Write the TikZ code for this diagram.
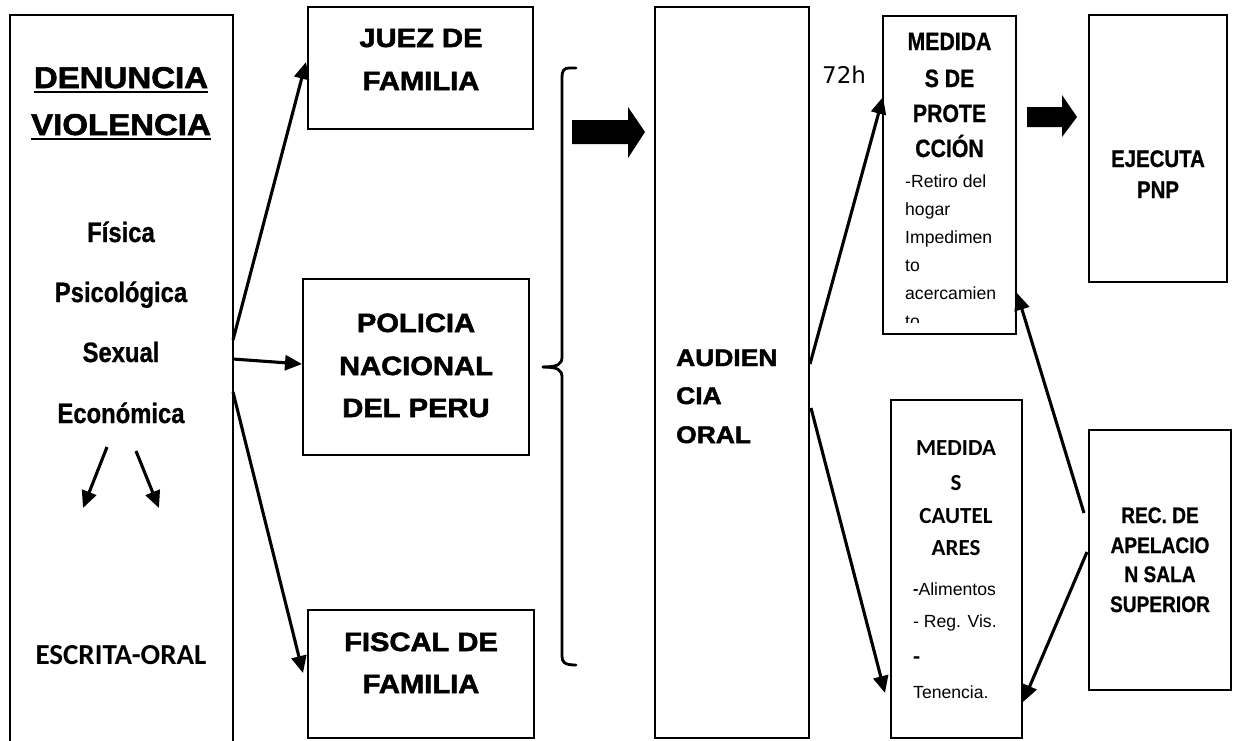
\documentclass[tikz,border=0pt]{standalone}
\usepackage{fontspec}
\setmainfont{Liberation Sans}
\newfontfamily\blackf[BoldFeatures={FakeBold=2,FakeStretch=1.1}]{Liberation Sans}
\newfontfamily\narrowf[FakeStretch=0.85,BoldFeatures={FakeBold=0.8}]{Liberation Sans}
\newfontfamily\calf{Carlito}
\newfontfamily\dejaf{DejaVu Sans}
\usetikzlibrary{arrows.meta,calc}
\tikzset{
  box/.style={draw, line width=2.2pt, inner sep=0pt, outer sep=0pt, anchor=north west},
  conn/.style={line width=3.1pt, -{Triangle[length=17pt,width=15pt]}},
  brace/.style={line width=2.8pt, line cap=round},
  blockarrow/.style={fill=black},
  lbl/.style={inner sep=0pt, anchor=base},
  lblw/.style={inner sep=0pt, anchor=base west},
  heavy/.style={lbl, font=\blackf\bfseries\fontsize{26.5pt}{30pt}\selectfont},
  heavyw/.style={lblw, font=\blackf\bfseries\fontsize{24pt}{28pt}\selectfont},
  bigheavy/.style={lbl, font=\blackf\bfseries\fontsize{30pt}{34pt}\selectfont},
  narrowb/.style={lbl, font=\narrowf\bfseries\fontsize{28pt}{32pt}\selectfont},
  midnarrowb/.style={lbl, font=\narrowf\bfseries\fontsize{25pt}{29pt}\selectfont},
  ejb/.style={lbl, font=\narrowf\bfseries\fontsize{24pt}{28pt}\selectfont},
  smallnarrowb/.style={lbl, font=\narrowf\bfseries\fontsize{22.5pt}{26pt}\selectfont},
  calb/.style={lbl, font=\calf\bfseries\fontsize{29pt}{33pt}\selectfont},
  smallcalb/.style={lbl, font=\calf\bfseries\fontsize{23pt}{27pt}\selectfont},
  body/.style={lblw, font=\fontsize{17.6pt}{21pt}\selectfont},
  hours/.style={lblw, font=\dejaf\fontsize{23pt}{27pt}\selectfont}
}
\begin{document}
\begin{tikzpicture}[x=1pt,y=-1pt]
\useasboundingbox (0,0) rectangle (1237,740);
\clip (0,0) rectangle (1237,740);
\fill[white] (0,0) rectangle (1237,740);

% boxes
\node[box, minimum width=223pt, minimum height=760pt] (den) at (10,15) {};
\node[box, minimum width=225pt, minimum height=122pt] (juez) at (308,7) {};
\node[box, minimum width=226pt, minimum height=176pt] (pol) at (303,279) {};
\node[box, minimum width=226pt, minimum height=128pt] (fis) at (308,610) {};
\node[box, minimum width=154pt, minimum height=731pt] (aud) at (655,7) {};
\node[box, minimum width=133pt, minimum height=318pt] (prot) at (883,16) {};
\node[box, minimum width=138pt, minimum height=267pt] (ejec) at (1089,15) {};
\node[box, minimum width=131pt, minimum height=338pt] (caut) at (891,400) {};
\node[box, minimum width=142pt, minimum height=260pt] (rec) at (1089,430) {};

% left box text
\node[bigheavy] (tden) at (121,88) {DENUNCIA};
\node[bigheavy] (tvio) at (121,135) {VIOLENCIA};
\draw[line width=2.4pt] ($(tden.base west)+(0,4)$) -- ($(tden.base east)+(0,4)$);
\draw[line width=2.4pt] ($(tvio.base west)+(0,4)$) -- ($(tvio.base east)+(0,4)$);
\node[narrowb] (tfis) at (121,242) {Física};
\node[narrowb] (tpsi) at (121,302) {Psicológica};
\node[narrowb] (tsex) at (121,362) {Sexual};
\node[narrowb] (teco) at (121,423) {Económica};
\node[calb] (tesc) at (121,664) {ESCRITA-ORAL};
\coordinate (s1a) at (107,447);
\coordinate (s1b) at (83,508);
\coordinate (s2a) at (136,451);
\coordinate (s2b) at (159,508);
\draw[conn] (s1a) -- (s1b);
\draw[conn] (s2a) -- (s2b);

% middle column texts
\node[heavy] (tj1) at (421,47) {JUEZ DE};
\node[heavy] (tj2) at (421,90) {FAMILIA};
\node[heavy] (tp1) at (416,332) {POLICIA};
\node[heavy] (tp2) at (416,375) {NACIONAL};
\node[heavy] (tp3) at (416,417) {DEL PERU};
\node[heavy] (tf1) at (421,651) {FISCAL DE};
\node[heavy] (tf2) at (421,693) {FAMILIA};

% connectors from the left box
\draw[conn] ($(den.north east)+(0,325)$) -- ($(juez.north west)+(-2,55)$);
\draw[conn] ($(den.north east)+(0,344)$) -- ($(pol.north west)+(-1,85)$);
\draw[conn] ($(den.north east)+(0,377)$) -- ($(fis.north west)+(-5,63)$);

% brace
\draw[brace] (576,68) -- (569,68) .. controls (564,68) and (562,71) .. (562,77)
  -- (562,357) .. controls (562,364) and (558,367) .. (543,367);
\draw[brace] (543,367) .. controls (558,367) and (562,370) .. (562,377)
  -- (562,656) .. controls (562,662) and (564,665) .. (576,665);

% block arrows
\fill[blockarrow] (572,120) -- (628,120) -- (628,107) -- (645,132) -- (628,158)
  -- (628,144) -- (572,144) -- cycle;
\fill[blockarrow] (1027,107) -- (1062,107) -- (1062,95) -- (1077,117) -- (1062,137)
  -- (1062,127) -- (1027,127) -- cycle;

% audiencia
\node[heavyw] (ta1) at (676,366) {AUDIEN};
\node[heavyw] (ta2) at (676,404) {CIA};
\node[heavyw] (ta3) at (676,443) {ORAL};
\node[hours] (t72) at (822,83) {72h};

% proteccion
\node[midnarrowb] (tm1) at (949.5,50) {MEDIDA};
\node[midnarrowb] (tm2) at (949.5,87) {S DE};
\node[midnarrowb] (tm3) at (949.5,122) {PROTE};
\node[midnarrowb] (tm4) at (949.5,157) {CCIÓN};
\node[body] (tb1) at (905,187) {-Retiro del};
\node[body] (tb2) at (905,215) {hogar};
\node[body] (tb3) at (905,243) {Impedimen};
\node[body] (tb4) at (905,271) {to};
\node[body] (tb5) at (905,299) {acercamien};
\begin{scope}
\clip (883,16) rectangle (1016,322);
\node[body] (tb6) at (905,327) {to};
\end{scope}

% ejecuta
\node[ejb] (te1) at (1158,167) {EJECUTA};
\node[ejb] (te2) at (1158,198) {PNP};

% cautelares
\node[smallcalb] (tc1) at (956,455) {MEDIDA};
\node[smallcalb] (tc2) at (956,490) {S};
\node[smallcalb] (tc3) at (956,523) {CAUTEL};
\node[smallcalb] (tc4) at (956,555) {ARES};
\node[body] (tc5) at (913,595) {{\calf\bfseries -}Alimentos};
\node[body] (tc6) at (913,627) {- Reg. Vis.};
\node[lblw, font=\calf\bfseries\fontsize{23pt}{27pt}\selectfont] (tc7) at (913,664) {-};
\node[body] (tc8) at (913,698) {Tenencia.};

% recurso
\node[smallnarrowb] (tr1) at (1160,523) {REC. DE};
\node[smallnarrowb] (tr2) at (1160,553) {APELACIO};
\node[smallnarrowb] (tr3) at (1160,582) {N SALA};
\node[smallnarrowb] (tr4) at (1160,612) {SUPERIOR};

% connectors from audiencia and recurso
\draw[conn] ($(aud.north east)+(1,357)$) -- ($(prot.north west)+(0,81)$);
\draw[conn] ($(aud.north east)+(2,401)$) -- ($(caut.north west)+(-6,293)$);
\draw[conn] ($(rec.north west)+(-5,83)$) -- ($(prot.north east)+(1,277)$);
\draw[conn] ($(rec.north west)+(-2,122)$) -- ($(caut.north east)+(1,302)$);
\end{tikzpicture}
\end{document}
